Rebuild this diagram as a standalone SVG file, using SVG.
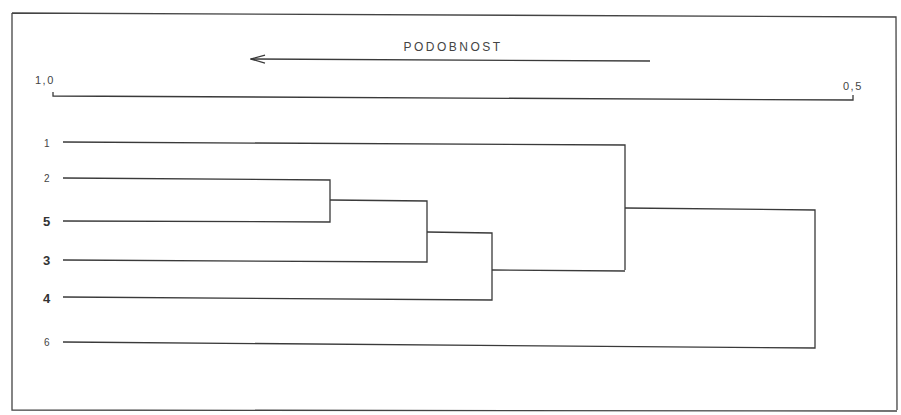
<svg xmlns="http://www.w3.org/2000/svg" width="901" height="415" viewBox="0 0 901 415">
<defs>
<style>
.ln{fill:none;stroke:#3a3a3a;stroke-width:1.3}
.fr{fill:none;stroke:#444;stroke-width:1.3}
.t{font-family:"Liberation Sans",Arial,sans-serif;font-size:10px;fill:#444}
.ts{font-family:"Liberation Sans",Arial,sans-serif;font-size:11px;fill:#444;letter-spacing:1.5px}
.tb{font-family:"Liberation Sans",Arial,sans-serif;font-size:13px;font-weight:bold;fill:#333}
</style>
<marker id="ah" markerWidth="16" markerHeight="10" refX="15" refY="5" orient="auto" markerUnits="userSpaceOnUse">
<path d="M1,1 L15,5 L1,9" fill="none" stroke="#3a3a3a" stroke-width="1.3"/>
</marker>
</defs>
<rect width="901" height="415" fill="#fff"/>
<path class="fr" d="M12,13 L896,17 L897,410 M12,13 L12,410 L897,411"/>
<g id="title">
<text class="ts" x="453" y="51" text-anchor="middle" style="font-size:12px;letter-spacing:2.5px">PODOBNOST</text>
<line class="ln" x1="650" y1="61" x2="251" y2="59" marker-end="url(#ah)"/>
</g>
<g id="axis">
<text class="ts" x="35" y="84">1,0</text>
<text class="ts" x="843" y="90">0,5</text>
<path class="ln" d="M53,92 L53,96 L853,100 L853,95"/>
</g>
<g id="leaf1"><text class="t" x="44" y="147">1</text></g>
<g id="leaf2"><text class="t" x="44" y="182">2</text></g>
<g id="leaf5"><text class="tb" x="43" y="226">5</text></g>
<g id="leaf3"><text class="tb" x="43" y="265">3</text></g>
<g id="leaf4"><text class="tb" x="43" y="303">4</text></g>
<g id="leaf6"><text class="t" x="44" y="346">6</text></g>
<g id="connectors">
<path class="ln" d="M63,142 L625,145 L625,270"/>
<path class="ln" d="M63,178 L330,180 L330,222 L63,221"/>
<path class="ln" d="M330,200 L427,201 L427,262 L63,260"/>
<path class="ln" d="M427,232 L492,233 L492,300 L63,297"/>
<path class="ln" d="M492,270 L625,271"/>
<path class="ln" d="M625,208 L815,210 L815,348 L63,342"/>
</g>
</svg>
